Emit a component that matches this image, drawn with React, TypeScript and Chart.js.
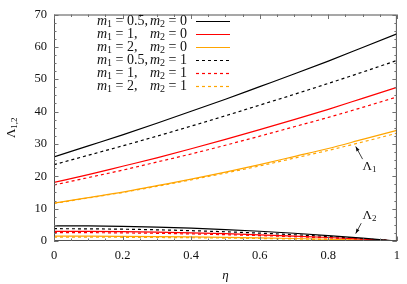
import React, { useEffect, useRef } from 'react';
import { Chart, registerables } from 'chart.js';

Chart.register(...registerables);

// ---- data ----
const eta = [0, 0.1, 0.2, 0.3, 0.4, 0.5, 0.6, 0.7, 0.8, 0.9, 1];

// Lambda_1 branches
const lambda1_m1_05_m2_0 = [26.0, 29.4, 32.8, 36.4, 40.1, 43.8, 47.7, 51.6, 55.6, 59.8, 64.0];
const lambda1_m1_1_m2_0 = [18.1, 20.5, 23.1, 25.7, 28.5, 31.4, 34.4, 37.5, 40.7, 44.1, 47.5];
const lambda1_m1_2_m2_0 = [11.7, 13.4, 15.1, 17.1, 19.1, 21.3, 23.6, 26.1, 28.6, 31.4, 34.2];
const lambda1_m1_05_m2_1 = [23.6, 26.5, 29.4, 32.4, 35.5, 38.7, 42.0, 45.3, 48.7, 52.2, 55.8];
const lambda1_m1_1_m2_1 = [17.3, 19.6, 21.9, 24.4, 26.9, 29.6, 32.4, 35.3, 38.2, 41.3, 44.5];
const lambda1_m1_2_m2_1 = [11.6, 13.3, 15.0, 16.9, 18.9, 21.0, 23.2, 25.6, 28.0, 30.6, 33.3];

// Lambda_2 branches
const lambda2_m1_05_m2_0 = [4.7, 4.65, 4.51, 4.28, 3.95, 3.53, 3.01, 2.4, 1.69, 0.89, 0];
const lambda2_m1_1_m2_0 = [3.0, 2.97, 2.88, 2.73, 2.52, 2.25, 1.92, 1.53, 1.08, 0.57, 0];
const lambda2_m1_2_m2_0 = [1.5, 1.49, 1.44, 1.37, 1.26, 1.13, 0.96, 0.77, 0.54, 0.29, 0];
const lambda2_m1_05_m2_1 = [3.8, 3.76, 3.65, 3.46, 3.19, 2.85, 2.43, 1.94, 1.37, 0.72, 0];
const lambda2_m1_1_m2_1 = [2.6, 2.57, 2.5, 2.37, 2.18, 1.95, 1.66, 1.33, 0.94, 0.49, 0];
const lambda2_m1_2_m2_1 = [1.2, 1.19, 1.15, 1.09, 1.01, 0.9, 0.77, 0.61, 0.43, 0.23, 0];

// series descriptors
const seriesM1 = ['0.5', '1', '2', '0.5', '1', '2'];
const seriesM2 = ['0', '0', '0', '1', '1', '1'];
const seriesColors = ['#000000', '#ff0000', '#ffa500', '#000000', '#ff0000', '#ffa500'];
const seriesDashed = [false, false, false, true, true, true];
const lambda1Series = [
  lambda1_m1_05_m2_0, lambda1_m1_1_m2_0, lambda1_m1_2_m2_0,
  lambda1_m1_05_m2_1, lambda1_m1_1_m2_1, lambda1_m1_2_m2_1,
];
const lambda2Series = [
  lambda2_m1_05_m2_0, lambda2_m1_1_m2_0, lambda2_m1_2_m2_0,
  lambda2_m1_05_m2_1, lambda2_m1_1_m2_1, lambda2_m1_2_m2_1,
];

// ticks
const xTickValues = [0, 0.2, 0.4, 0.6, 0.8, 1];
const xTickLabels = ['0', '0.2', '0.4', '0.6', '0.8', '1'];
const yTickValues = [0, 10, 20, 30, 40, 50, 60, 70];
const yTickLabels = ['0', '10', '20', '30', '40', '50', '60', '70'];
const xMinorStep = 0.05;
const yMinorStep = 2.5;

const SERIF = "'Liberation Serif', 'DejaVu Serif', serif";

function drawSubText(ctx: CanvasRenderingContext2D, x: number, y: number, base: string, sub: string, italic: boolean, size: number) {
  ctx.font = `${italic ? 'italic ' : ''}${size}px ${SERIF}`;
  ctx.fillText(base, x, y);
  const w = ctx.measureText(base).width;
  ctx.font = `${Math.round(size * 0.7)}px ${SERIF}`;
  ctx.fillText(sub, x + w, y + size * 0.25);
  return w + ctx.measureText(sub).width;
}

function measureSub(ctx: CanvasRenderingContext2D, base: string, sub: string, italic: boolean, size: number) {
  ctx.font = `${italic ? 'italic ' : ''}${size}px ${SERIF}`;
  const w = ctx.measureText(base).width;
  ctx.font = `${Math.round(size * 0.7)}px ${SERIF}`;
  return w + ctx.measureText(sub).width;
}

const LEG_SIZE = 14;

const decorPlugin = {
  id: 'decor',
  afterDatasetsDraw(chart: any) {
    const ctx: CanvasRenderingContext2D = chart.ctx;
    const { left, right, top, bottom } = chart.chartArea;
    const xs = chart.scales.x;
    const ys = chart.scales.y;
    ctx.save();

    // frame
    ctx.strokeStyle = '#505050';
    ctx.lineWidth = 1;
    ctx.strokeRect(left + 0.5, top + 0.5, right - left - 1, bottom - top - 1);

    // ticks (inward, mirrored)
    ctx.strokeStyle = '#707070';
    ctx.beginPath();
    for (let v = 0; v <= 1.0001; v += xMinorStep) {
      const major = xTickValues.some((t) => Math.abs(t - v) < 1e-6);
      const len = major ? 4.5 : 2.5;
      const px = Math.round(xs.getPixelForValue(v)) + 0.5;
      ctx.moveTo(px, bottom);
      ctx.lineTo(px, bottom - len);
      ctx.moveTo(px, top);
      ctx.lineTo(px, top + len);
    }
    for (let v = 0; v <= 70.0001; v += yMinorStep) {
      const major = yTickValues.some((t) => Math.abs(t - v) < 1e-6);
      const len = major ? 4.5 : 2.5;
      const py = Math.round(ys.getPixelForValue(v)) + 0.5;
      ctx.moveTo(left, py);
      ctx.lineTo(left + len, py);
      ctx.moveTo(right, py);
      ctx.lineTo(right - len, py);
    }
    ctx.stroke();

    // legend
    ctx.fillStyle = '#111';
    ctx.textBaseline = 'middle';
    ctx.textAlign = 'left';
    const rowY0 = 21;
    const rowH = 13;
    const textLeft = 97;
    const textRight = 187;
    const lineX0 = 196;
    const lineX1 = 230;
    for (let i = 0; i < seriesM1.length; i++) {
      const y = rowY0 + i * rowH;
      ctx.fillStyle = '#111';
      let x = textLeft;
      x += drawSubText(ctx, x, y, 'm', '1', true, LEG_SIZE);
      ctx.font = `${LEG_SIZE}px ${SERIF}`;
      ctx.fillText(` = ${seriesM1[i]},`, x, y);
      const rest = ` = ${seriesM2[i]}`;
      ctx.font = `${LEG_SIZE}px ${SERIF}`;
      const restW = ctx.measureText(rest).width;
      const mW = measureSub(ctx, 'm', '2', true, LEG_SIZE);
      let x2 = textRight - restW - mW;
      x2 += drawSubText(ctx, x2, y, 'm', '2', true, LEG_SIZE);
      ctx.font = `${LEG_SIZE}px ${SERIF}`;
      ctx.fillText(rest, x2, y);
      // sample line
      ctx.strokeStyle = seriesColors[i];
      ctx.lineWidth = 1.2;
      ctx.setLineDash(seriesDashed[i] ? [3, 3] : []);
      ctx.beginPath();
      ctx.moveTo(lineX0, y + 0.5);
      ctx.lineTo(lineX1, y + 0.5);
      ctx.stroke();
      ctx.setLineDash([]);
    }

    // annotations
    ctx.fillStyle = '#111';
    ctx.strokeStyle = '#111';
    ctx.lineWidth = 0.8;
    const arrow = (x0: number, y0: number, x1: number, y1: number) => {
      const p0x = xs.getPixelForValue(x0), p0y = ys.getPixelForValue(y0);
      const p1x = xs.getPixelForValue(x1), p1y = ys.getPixelForValue(y1);
      ctx.beginPath();
      ctx.moveTo(p0x, p0y);
      ctx.lineTo(p1x, p1y);
      ctx.stroke();
      const a = Math.atan2(p1y - p0y, p1x - p0x);
      const L = 5, W = 0.35;
      ctx.beginPath();
      ctx.moveTo(p1x, p1y);
      ctx.lineTo(p1x - L * Math.cos(a - W), p1y - L * Math.sin(a - W));
      ctx.lineTo(p1x - L * Math.cos(a + W), p1y - L * Math.sin(a + W));
      ctx.closePath();
      ctx.fill();
    };
    arrow(0.9, 25.3, 0.88, 29.2);
    arrow(0.896, 5.5, 0.88, 2.3);
    drawSubText(ctx, xs.getPixelForValue(0.9), ys.getPixelForValue(23.0), 'Λ', '1', false, 13);
    drawSubText(ctx, xs.getPixelForValue(0.9), ys.getPixelForValue(7.8), 'Λ', '2', false, 13);

    // y-axis title (rotated)
    ctx.save();
    const tw = measureSub(ctx, 'Λ', '1,2', false, 13);
    ctx.translate(11.5, (top + bottom) / 2);
    ctx.rotate(-Math.PI / 2);
    ctx.fillStyle = '#111';
    drawSubText(ctx, -tw / 2, 0, 'Λ', '1,2', false, 13);
    ctx.restore();

    ctx.restore();
  },
};

export default function App() {
  const canvasRef = useRef<HTMLCanvasElement | null>(null);

  useEffect(() => {
    const canvas = canvasRef.current;
    if (!canvas) return;

    const datasets: any[] = [];
    const addSet = (vals: number[], i: number, label: string) => {
      datasets.push({
        label,
        data: eta.map((x, k) => ({ x, y: vals[k] })),
        borderColor: seriesColors[i],
        borderWidth: 1.2,
        borderDash: seriesDashed[i] ? [3, 3] : [],
        pointRadius: 0,
        fill: false,
        cubicInterpolationMode: 'monotone',
      });
    };
    lambda1Series.forEach((s, i) => addSet(s, i, `Λ1 m1=${seriesM1[i]} m2=${seriesM2[i]}`));
    lambda2Series.forEach((s, i) => addSet(s, i, `Λ2 m1=${seriesM1[i]} m2=${seriesM2[i]}`));

    const chart = new Chart(canvas, {
      type: 'line',
      data: { datasets },
      plugins: [decorPlugin],
      options: {
        animation: false,
        responsive: false,
        devicePixelRatio: 1,
        layout: { padding: { top: 12, right: 8, left: 0, bottom: 0 } },
        plugins: { legend: { display: false }, tooltip: { enabled: false } },
        scales: {
          x: {
            type: 'linear',
            min: 0,
            max: 1,
            grid: { display: false, drawTicks: false },
            border: { display: false },
            afterBuildTicks: (s: any) => {
              s.ticks = xTickValues.map((v) => ({ value: v }));
            },
            afterFit: (s: any) => {
              s.height = 43;
            },
            ticks: {
              autoSkip: false,
              maxRotation: 0,
              padding: 7,
              color: '#111',
              font: { family: SERIF, size: 12.5 },
              callback: (v: any) => {
                const idx = xTickValues.findIndex((t) => Math.abs(t - Number(v)) < 1e-9);
                return idx >= 0 ? xTickLabels[idx] : '';
              },
            },
            title: {
              display: true,
              text: 'η',
              color: '#111',
              font: { family: SERIF, size: 13, style: 'italic' },
              padding: { top: 0, bottom: 1 },
            },
          },
          y: {
            type: 'linear',
            min: 0,
            max: 70,
            grid: { display: false, drawTicks: false },
            border: { display: false },
            afterBuildTicks: (s: any) => {
              s.ticks = yTickValues.map((v) => ({ value: v }));
            },
            afterFit: (s: any) => {
              s.width = 54;
            },
            ticks: {
              autoSkip: false,
              padding: 7,
              color: '#111',
              font: { family: SERIF, size: 12.5 },
              callback: (v: any) => {
                const idx = yTickValues.findIndex((t) => Math.abs(t - Number(v)) < 1e-9);
                return idx >= 0 ? yTickLabels[idx] : '';
              },
            },
          },
        },
      } as any,
    });

    return () => chart.destroy();
  }, []);

  return (
    <div style={{ position: 'absolute', left: 0, top: 0, width: 407, height: 284, background: '#fff' }}>
      <canvas ref={canvasRef} width={407} height={284} style={{ display: 'block' }} />
    </div>
  );
}
